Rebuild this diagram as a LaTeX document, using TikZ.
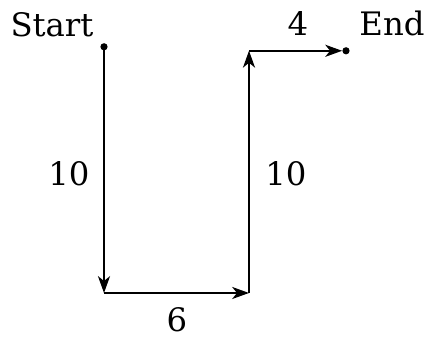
\documentclass[tikz,border=0pt]{standalone}
\usepackage{fontspec}
\setmainfont{DejaVu Serif}
\usetikzlibrary{arrows.meta}
\begin{document}
\begin{tikzpicture}[font=\fontsize{23}{27}\selectfont, >={Stealth[length=0.42cm, width=0.3cm, inset=0.12cm]},
      seg/.style={->, line width=1.6pt},
      lbl/.style={anchor=base, inner sep=0pt},
      dot/.style={circle, fill, inner sep=0pt, minimum size=0.18cm}]
    \useasboundingbox (0,0) rectangle (10.65,8.5);
    \node[dot] (start) at (2.6,7.33) {};
    \coordinate (bl) at (2.6,1.175);
    \coordinate (br) at (6.225,1.175);
    \coordinate (tr) at (6.225,7.23);
    \node[dot] (end) at (8.65,7.23) {};
    \draw[seg] (start.center) -- (bl);
    \draw[seg] (bl) -- (br);
    \draw[seg] (br) -- (tr);
    \draw[seg] (tr) -- (end.west);
    \node[lbl] (startlbl) at (1.3,7.575) {Start};
    \node[lbl] (endlbl) at (9.8,7.6) {End};
    \node[lbl] (lenD) at (7.45,7.6) {4};
    \node[lbl] (lenA) at (1.725,3.85) {10};
    \node[lbl] (lenC) at (7.15,3.85) {10};
    \node[lbl] (lenB) at (4.425,0.2) {6};
  \end{tikzpicture}
\end{document}
